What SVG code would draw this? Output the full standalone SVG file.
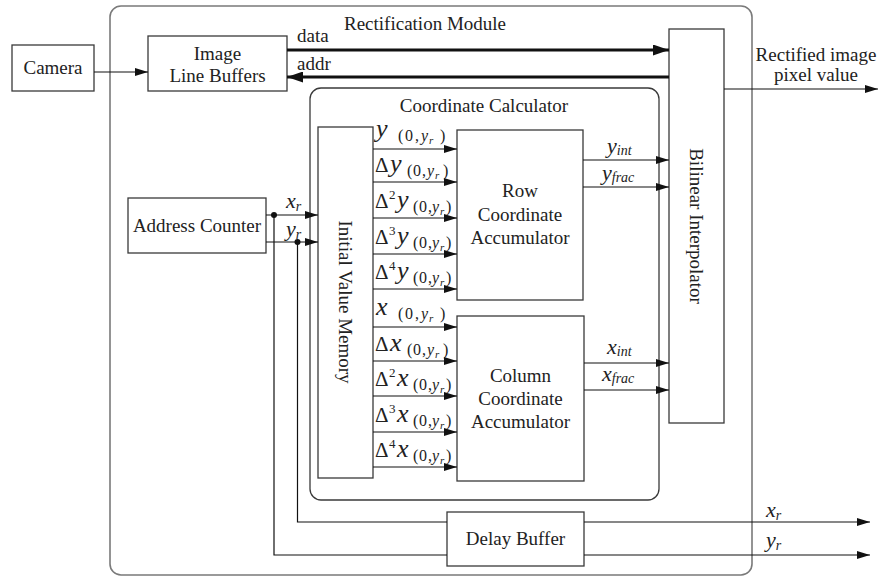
<svg xmlns="http://www.w3.org/2000/svg" width="882" height="577" viewBox="0 0 882 577" font-family="Liberation Serif, Tinos, Noto Serif, DejaVu Serif, serif">
<style>
text{font-family:"Liberation Serif",Tinos,"Noto Serif","DejaVu Serif",serif;fill:#222;}
.t{font-size:19px;}
.c{text-anchor:middle;}
.v{font-size:26px;font-style:italic;}
.d{font-size:21px;}
.sp{font-size:13px;}
.sb{font-size:16px;}
.sbi{font-size:16px;font-style:italic;}
.sbr{font-size:11px;font-style:italic;}
.lv{font-size:22px;font-style:italic;}
.ls{font-size:14px;font-style:italic;}
.box{fill:#fff;stroke:#3a3a3a;stroke-width:1.3;}
.outer{fill:none;stroke:#7a7a7a;stroke-width:1.6;}
.inner{fill:none;stroke:#3a3a3a;stroke-width:1.3;}
.ln{fill:none;stroke:#111;stroke-width:1.2;}
.thick{fill:none;stroke:#111;stroke-width:3;}
</style>
<defs>
<marker id="ah" markerUnits="userSpaceOnUse" markerWidth="13" markerHeight="8" refX="13" refY="4" orient="auto">
<path d="M0,0 L13,4 L0,8 z" fill="#111"/>
</marker>
<marker id="ahb" markerUnits="userSpaceOnUse" markerWidth="16" markerHeight="11" refX="16" refY="5.5" orient="auto">
<path d="M0,0 L16,5.5 L0,11 z" fill="#111"/>
</marker>
</defs>

<g id="rectification-module">
<rect class="outer" x="110" y="6" width="642" height="569" rx="11"/>
<text class="t c" x="425" y="30">Rectification Module</text>
</g>

<g id="coordinate-calculator">
<rect class="inner" x="310" y="88" width="349" height="412" rx="11"/>
<text class="t c" x="484" y="112">Coordinate Calculator</text>
</g>

<g id="camera">
<rect class="box" x="12" y="45" width="82" height="46"/>
<text class="t c" x="53" y="74">Camera</text>
</g>

<g id="image-line-buffers">
<rect class="box" x="148" y="36" width="139" height="55"/>
<text class="t c" x="217.5" y="60">Image</text>
<text class="t c" x="217.5" y="82">Line Buffers</text>
</g>

<g id="address-counter">
<rect class="box" x="128" y="198" width="138" height="55"/>
<text class="t c" x="197" y="232">Address Counter</text>
</g>

<g id="initial-value-memory">
<rect class="box" x="318" y="127" width="55" height="351"/>
<text class="t c" transform="translate(345.5,302) rotate(90)" x="0" y="6.5">Initial Value Memory</text>
</g>

<g id="row-coordinate-accumulator">
<rect class="box" x="457" y="130" width="126" height="170"/>
<text class="t c" x="520" y="197">Row</text>
<text class="t c" x="520" y="221">Coordinate</text>
<text class="t c" x="520" y="244">Accumulator</text>
</g>

<g id="column-coordinate-accumulator">
<rect class="box" x="457" y="316" width="127" height="165"/>
<text class="t c" x="520.5" y="382">Column</text>
<text class="t c" x="520.5" y="405">Coordinate</text>
<text class="t c" x="520.5" y="428">Accumulator</text>
</g>

<g id="bilinear-interpolator">
<rect class="box" x="669" y="29" width="55" height="394"/>
<text class="t c" transform="translate(696.5,226) rotate(90)" x="0" y="6.5">Bilinear Interpolator</text>
</g>

<g id="delay-buffer">
<rect class="box" x="447" y="512" width="137" height="54"/>
<text class="t c" x="515.5" y="545">Delay Buffer</text>
</g>

<g id="connectors">
<line class="ln" x1="94" y1="72" x2="148" y2="72" marker-end="url(#ah)"/>
<line class="thick" x1="287" y1="50" x2="669" y2="50" marker-end="url(#ahb)"/>
<line class="thick" x1="669" y1="77" x2="287" y2="77" marker-end="url(#ahb)"/>
<line class="ln" x1="724" y1="89" x2="878" y2="89" marker-end="url(#ah)"/>

<line class="ln" x1="266" y1="215" x2="318" y2="215" marker-end="url(#ah)"/>
<line class="ln" x1="266" y1="242" x2="318" y2="242" marker-end="url(#ah)"/>
<circle cx="274" cy="215" r="3" fill="#111"/>
<circle cx="297.5" cy="242" r="3" fill="#111"/>
<polyline class="ln" points="274,215 274,555 447,555"/>
<polyline class="ln" points="297.5,242 297.5,522 447,522"/>
<line class="ln" x1="584" y1="522" x2="870" y2="522" marker-end="url(#ah)"/>
<line class="ln" x1="584" y1="555" x2="870" y2="555" marker-end="url(#ah)"/>

<line class="ln" x1="373" y1="149" x2="457" y2="149" marker-end="url(#ah)"/>
<line class="ln" x1="373" y1="182" x2="457" y2="182" marker-end="url(#ah)"/>
<line class="ln" x1="373" y1="218" x2="457" y2="218" marker-end="url(#ah)"/>
<line class="ln" x1="373" y1="254" x2="457" y2="254" marker-end="url(#ah)"/>
<line class="ln" x1="373" y1="289" x2="457" y2="289" marker-end="url(#ah)"/>
<line class="ln" x1="373" y1="327" x2="457" y2="327" marker-end="url(#ah)"/>
<line class="ln" x1="373" y1="361" x2="457" y2="361" marker-end="url(#ah)"/>
<line class="ln" x1="373" y1="396" x2="457" y2="396" marker-end="url(#ah)"/>
<line class="ln" x1="373" y1="432" x2="457" y2="432" marker-end="url(#ah)"/>
<line class="ln" x1="373" y1="467" x2="457" y2="467" marker-end="url(#ah)"/>

<line class="ln" x1="583" y1="160" x2="669" y2="160" marker-end="url(#ah)"/>
<line class="ln" x1="583" y1="187" x2="669" y2="187" marker-end="url(#ah)"/>
<line class="ln" x1="584" y1="363" x2="669" y2="363" marker-end="url(#ah)"/>
<line class="ln" x1="584" y1="390" x2="669" y2="390" marker-end="url(#ah)"/>
</g>

<g id="labels">
<text class="t" x="297" y="42">data</text>
<text class="t" x="297" y="70">addr</text>
<text class="t c" x="816" y="61">Rectified image</text>
<text class="t c" x="816" y="81">pixel value</text>

<text class="lv" x="286" y="208">x<tspan class="ls" y="211">r</tspan></text>
<text class="lv" x="286" y="236">y<tspan class="ls" y="239">r</tspan></text>
<text class="lv" x="766" y="517">x<tspan class="ls" y="520">r</tspan></text>
<text class="lv" x="766" y="547">y<tspan class="ls" y="550">r</tspan></text>

<text class="lv" x="607" y="153">y<tspan class="ls" y="155">int</tspan></text>
<text class="lv" x="602" y="180">y<tspan class="ls" y="182">frac</tspan></text>
<text class="lv" x="607" y="354">x<tspan class="ls" y="356">int</tspan></text>
<text class="lv" x="602" y="381">x<tspan class="ls" y="383">frac</tspan></text>

<text class="v" x="376" y="137">y</text>
<text class="sb" y="141"><tspan x="398">(</tspan><tspan x="405">0</tspan><tspan x="415">,</tspan><tspan class="sbi" x="421">y</tspan><tspan class="sbr" x="429" y="144">r</tspan><tspan x="440" y="141">)</tspan></text>

<text class="d" x="375" y="172">Δ<tspan class="v" x="390">y</tspan></text>
<text class="sb" y="176"><tspan x="407">(</tspan><tspan x="413">0</tspan><tspan x="422">,</tspan><tspan class="sbi" x="427">y</tspan><tspan class="sbr" x="435" y="179">r</tspan><tspan x="443" y="176">)</tspan></text>

<text class="d" x="375" y="208">Δ<tspan class="sp" x="389" y="199">2</tspan><tspan class="v" x="397" y="208">y</tspan></text>
<text class="sb" y="212"><tspan x="413">(</tspan><tspan x="419">0</tspan><tspan x="428">,</tspan><tspan class="sbi" x="432">y</tspan><tspan class="sbr" x="440" y="215">r</tspan><tspan x="446" y="212">)</tspan></text>

<text class="d" x="375" y="244">Δ<tspan class="sp" x="389" y="235">3</tspan><tspan class="v" x="397" y="244">y</tspan></text>
<text class="sb" y="248"><tspan x="413">(</tspan><tspan x="419">0</tspan><tspan x="428">,</tspan><tspan class="sbi" x="432">y</tspan><tspan class="sbr" x="440" y="251">r</tspan><tspan x="446" y="248">)</tspan></text>

<text class="d" x="375" y="279">Δ<tspan class="sp" x="389" y="270">4</tspan><tspan class="v" x="397" y="279">y</tspan></text>
<text class="sb" y="283"><tspan x="413">(</tspan><tspan x="419">0</tspan><tspan x="428">,</tspan><tspan class="sbi" x="432">y</tspan><tspan class="sbr" x="440" y="286">r</tspan><tspan x="446" y="283">)</tspan></text>

<text class="v" x="376" y="315">x</text>
<text class="sb" y="319"><tspan x="398">(</tspan><tspan x="405">0</tspan><tspan x="415">,</tspan><tspan class="sbi" x="421">y</tspan><tspan class="sbr" x="429" y="322">r</tspan><tspan x="440" y="319">)</tspan></text>

<text class="d" x="375" y="351">Δ<tspan class="v" x="390">x</tspan></text>
<text class="sb" y="355"><tspan x="407">(</tspan><tspan x="413">0</tspan><tspan x="422">,</tspan><tspan class="sbi" x="427">y</tspan><tspan class="sbr" x="435" y="358">r</tspan><tspan x="443" y="355">)</tspan></text>

<text class="d" x="375" y="386">Δ<tspan class="sp" x="389" y="377">2</tspan><tspan class="v" x="397" y="386">x</tspan></text>
<text class="sb" y="390"><tspan x="413">(</tspan><tspan x="419">0</tspan><tspan x="428">,</tspan><tspan class="sbi" x="432">y</tspan><tspan class="sbr" x="440" y="393">r</tspan><tspan x="446" y="390">)</tspan></text>

<text class="d" x="375" y="422">Δ<tspan class="sp" x="389" y="413">3</tspan><tspan class="v" x="397" y="422">x</tspan></text>
<text class="sb" y="426"><tspan x="413">(</tspan><tspan x="419">0</tspan><tspan x="428">,</tspan><tspan class="sbi" x="432">y</tspan><tspan class="sbr" x="440" y="429">r</tspan><tspan x="446" y="426">)</tspan></text>

<text class="d" x="375" y="457">Δ<tspan class="sp" x="389" y="448">4</tspan><tspan class="v" x="397" y="457">x</tspan></text>
<text class="sb" y="461"><tspan x="413">(</tspan><tspan x="419">0</tspan><tspan x="428">,</tspan><tspan class="sbi" x="432">y</tspan><tspan class="sbr" x="440" y="464">r</tspan><tspan x="446" y="461">)</tspan></text>
</g>
</svg>
